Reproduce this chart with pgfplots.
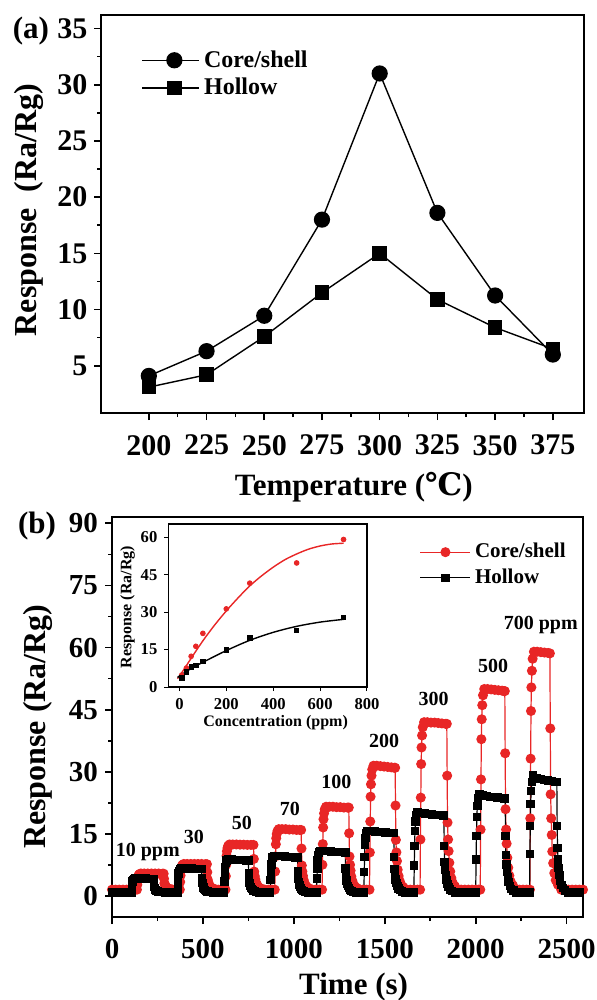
\documentclass[border=0pt]{standalone}
\usepackage{fontspec}
\setmainfont{Liberation Serif}
\newfontfamily\dejavu{DejaVu Serif}
\usepackage{pgfplots}
\pgfplotsset{compat=1.18}
\definecolor{cred}{RGB}{232,38,38}
\newcommand{\fs}[1]{\fontsize{#1}{#1}\selectfont\bfseries}

\pgfplotsset{
  panel/.style={
    scale only axis, anchor=south west,
    xtick pos=bottom, ytick pos=left, tick align=outside,
    major tick length=3.5pt, minor tick length=2pt,
    axis line style={line width=1pt},
    tick style={line width=0.8pt, black},
    /pgf/number format/assume math mode=true,
    /pgf/number format/1000 sep={},
    tick label style={font=\fs{14.5}},
    label style={font=\fs{15.5}},
    minor x tick num=1, minor y tick num=1,
    legend cell align=left,
  },
}

\begin{document}
\begin{tikzpicture}
\useasboundingbox (0,0) rectangle (298pt,-500pt);

% ---------- (a)
\begin{axis}[panel,
  at={(50.75pt,-206.5pt)}, width=241.25pt, height=199pt,
  xmin=179.5, xmax=388.5, ymin=0.8, ymax=36.2,
  xtick={200,225,...,375}, ytick={5,10,...,35},
  tick label style={font=\fs{15}},
  xticklabel style={yshift=-4pt},
  xlabel={Temperature ({\dejavu ℃})},
  ylabel={Response\ \ (Ra/Rg)},
  xlabel style={at={(axis description cs:0.523,-0.186)}, anchor=center},
  ylabel style={at={(axis description cs:-0.151,0.51)}, anchor=center, font=\fs{16}},
  legend style={draw=none, fill=none, font=\fs{12},
    at={(axis description cs:0.07,0.932)}, anchor=north west},
  legend image code/.code={\draw[mark repeat=2,mark phase=2,#1] plot coordinates {(0pt,0pt) (16pt,0pt) (28.5pt,0pt)};},
]
\addplot[black, line width=0.7pt, mark=*, mark size=3.7pt] coordinates {
  (200,4.1) (225,6.3) (250,9.45) (275,18.0) (300,31.0) (325,18.6) (350,11.25) (375,6.0)
};
\addlegendentry{Core/shell}
\addplot[black, line width=0.7pt, mark=square*, mark size=3.3pt] coordinates {
  (200,3.1) (225,4.2) (250,7.6) (275,11.5) (300,15.0) (325,10.9) (350,8.4) (375,6.5)
};
\addlegendentry{Hollow}
\end{axis}

\node[font=\fs{15.5}] at (15.5pt,-15.5pt) {(a)};
\node[font=\fs{15.5}] at (18.5pt,-263pt) {(b)};

% ---------- (b)
\begin{axis}[panel,
  at={(56pt,-458.5pt)}, width=235.5pt, height=200pt,
  xmin=0, xmax=2590, ymin=-5, ymax=91.5,
  xtick={0,500,...,2500}, ytick={0,15,...,90},
  xticklabel style={yshift=-4pt},
  xlabel={Time (s)},
  ylabel={Response (Ra/Rg)},
  xlabel style={at={(axis description cs:0.513,-0.175)}, anchor=center},
  ylabel style={at={(axis description cs:-0.157,0.476)}, anchor=center, font=\fs{16}},
  legend style={draw=none, fill=none, font=\fs{10.5},
    at={(axis description cs:0.64,0.955)}, anchor=north west},
  legend image code/.code={\draw[mark repeat=2,mark phase=2,#1] plot coordinates {(0pt,0pt) (12.5pt,0pt) (25pt,0pt)};},
]
\addplot[cred, line width=0.6pt, mark=*, mark size=2.2pt] coordinates {
(0,1.6)(20,1.6)(40,1.6)(60,1.6)(80,1.6)(100,1.6)(120,1.6)
(137,1.6)(139,2.77)(141,3.75)(143,4.53)(145,4.92)(148,5.19)(152,5.38)(159,5.5)
(177,5.5)(197,5.5)(217,5.5)(237,5.5)(257,5.5)(277,5.45)
(284,5.45)(286,4.25)(288,3.16)(291,2.77)(294,2.5)(298,2.22)(303,2.03)(309,1.87)(317,1.76)(329,1.68)
(345,1.6)(360,1.6)
(373,1.6)(375,3.46)(377,5.01)(379,6.25)(381,6.87)(384,7.3)(388,7.61)(395,7.8)
(413,7.8)(433,7.8)(453,7.8)(473,7.8)(493,7.8)(513,7.75)
(522,7.75)(524,5.82)(526,4.08)(529,3.46)(532,3.03)(536,2.59)(541,2.28)(547,2.03)(555,1.85)(567,1.72)
(585,1.6)(605,1.6)(618,1.6)
(624,1.6)(626,4.87)(628,7.6)(630,9.78)(632,10.87)(635,11.63)(639,12.17)(646,12.5)
(664,12.5)(684,12.5)(704,12.45)(724,12.45)(744,12.4)(764,12.4)
(778,12.4)(780,9.01)(782,5.96)(785,4.87)(788,4.11)(792,3.34)(797,2.8)(803,2.36)(811,2.04)(823,1.82)
(840,1.6)(860,1.6)(880,1.6)
(895,1.6)(897,5.98)(899,9.63)(901,12.55)(903,14.01)(906,15.03)(910,15.76)(917,16.2)
(935,16.2)(955,16.2)(975,16.1)(995,16.1)(1015,16.0)(1033,16.0)
(1040,16.0)(1042,11.53)(1044,7.44)(1047,5.98)(1050,4.96)(1054,3.94)(1059,3.21)(1065,2.62)(1073,2.18)(1085,1.89)
(1100,1.6)(1120,1.6)(1140,1.6)
(1155,1.6)(1157,7.6)(1159,12.6)(1161,16.6)(1163,18.6)(1166,20.0)(1170,21.0)(1177,21.6)
(1195,21.6)(1215,21.6)(1235,21.5)(1255,21.5)(1275,21.4)(1295,21.4)
(1302,21.4)(1304,15.2)(1306,9.6)(1309,7.6)(1312,6.2)(1316,4.8)(1321,3.8)(1327,3.0)(1335,2.4)(1347,2.0)
(1360,1.6)(1380,1.6)(1400,1.6)
(1416,1.6)(1418,10.57)(1420,18.05)(1422,24.03)(1424,27.02)(1427,29.11)(1431,30.6)(1438,31.5)
(1456,31.5)(1476,31.4)(1496,31.3)(1516,31.2)(1536,31.1)(1552,31.0)
(1557,31.0)(1559,21.9)(1561,13.6)(1564,10.6)(1567,8.5)(1571,6.4)(1576,4.9)(1582,3.7)(1590,2.8)(1602,2.2)
(1620,1.6)(1640,1.6)(1660,1.6)(1680,1.6)
(1694,1.6)(1696,13.7)(1698,23.8)(1700,31.9)(1702,35.9)(1705,38.8)(1709,40.8)(1716,42.0)
(1734,42.0)(1754,41.9)(1774,41.9)(1794,41.8)(1814,41.7)(1834,41.6)
(1841,41.6)(1843,29.1)(1845,17.8)(1848,13.7)(1851,10.9)(1855,8.1)(1860,6.0)(1866,4.4)(1874,3.2)(1886,2.4)
(1900,1.6)(1920,1.6)(1940,1.6)(1960,1.6)(1980,1.6)(2000,1.6)(2015,1.6)
(2025,1.6)(2027,16.1)(2029,28.2)(2031,37.9)(2033,42.7)(2036,46.1)(2040,48.5)(2047,50.0)
(2065,50.0)(2085,49.9)(2105,49.8)(2125,49.7)(2145,49.6)(2155,49.5)
(2160,49.5)(2162,34.5)(2164,21.0)(2167,16.1)(2170,12.7)(2174,9.3)(2179,6.9)(2185,5.0)(2193,3.5)(2205,2.6)
(2220,1.6)(2240,1.6)(2260,1.6)(2280,1.6)
(2298,1.6)(2300,18.8)(2302,33.2)(2304,44.7)(2306,50.4)(2309,54.4)(2313,57.3)(2320,59.0)
(2338,59.0)(2358,58.9)(2378,58.8)(2398,58.7)
(2408,58.6)(2410,40.5)(2412,24.6)(2415,18.8)(2418,14.8)(2421,10.8)(2426,8.0)(2432,5.6)(2440,3.9)(2452,2.8)
(2470,1.6)(2490,1.6)(2510,1.6)(2530,1.6)(2550,1.6)(2570,1.6)(2590,1.6)
};
\addlegendentry{Core/shell}
\addplot[black, line width=0.6pt, mark=square*, mark size=1.8pt] coordinates {
(0,0.9)(20,0.9)(40,0.9)(60,0.9)(80,0.9)(100,0.9)
(107,0.9)(109,2.06)(111,2.88)(113,3.54)(116,3.94)(120,4.2)(127,4.33)
(147,4.3)(167,4.28)(187,4.25)(207,4.22)(222,4.2)
(228,4.2)(230,2.88)(232,2.22)(235,1.89)(238,1.63)(242,1.43)(247,1.26)(253,1.13)(261,1.03)(273,0.97)
(290,0.9)(310,0.9)(330,0.9)(350,0.9)
(360,0.9)(362,2.9)(364,4.32)(366,5.46)(369,6.14)(373,6.6)(380,6.83)
(400,6.8)(420,6.75)(440,6.7)(460,6.65)(480,6.6)
(493,6.6)(495,4.32)(497,3.18)(500,2.61)(503,2.15)(507,1.81)(512,1.53)(518,1.3)(526,1.13)(538,1.01)
(555,0.9)(575,0.9)(595,0.9)(610,0.9)
(617,0.9)(619,3.6)(621,5.52)(623,7.06)(626,7.98)(630,8.6)(637,8.91)
(657,8.85)(677,8.8)(697,8.75)(717,8.7)(737,8.65)
(750,8.6)(752,5.52)(754,3.98)(757,3.21)(760,2.59)(764,2.13)(769,1.75)(775,1.44)(783,1.21)(795,1.05)
(810,0.9)(830,0.9)(850,0.9)(865,0.9)
(870,0.9)(872,3.88)(874,6.0)(876,7.7)(879,8.72)(883,9.4)(890,9.74)
(910,9.7)(930,9.65)(950,9.6)(970,9.5)(990,9.45)(1010,9.4)
(1020,9.4)(1022,6.0)(1024,4.3)(1027,3.45)(1030,2.77)(1034,2.26)(1039,1.84)(1045,1.5)(1053,1.24)(1065,1.07)
(1080,0.9)(1100,0.9)(1120,0.9)
(1125,0.9)(1127,4.3)(1129,6.72)(1131,8.66)(1134,9.82)(1138,10.6)(1145,10.99)
(1165,10.95)(1185,10.9)(1205,10.8)(1225,10.75)(1245,10.7)(1265,10.65)
(1283,10.6)(1285,6.72)(1287,4.78)(1290,3.81)(1293,3.03)(1297,2.45)(1302,1.97)(1308,1.58)(1316,1.29)(1328,1.09)
(1345,0.9)(1365,0.9)(1380,0.9)
(1385,0.9)(1387,5.9)(1389,9.48)(1391,12.34)(1394,14.06)(1398,15.2)(1405,15.77)
(1425,15.7)(1445,15.6)(1465,15.5)(1485,15.45)(1505,15.35)(1525,15.3)(1545,15.2)
(1550,15.2)(1552,9.48)(1554,6.62)(1557,5.19)(1560,4.05)(1564,3.19)(1569,2.47)(1575,1.9)(1583,1.47)(1595,1.19)
(1610,0.9)(1630,0.9)(1650,0.9)
(1660,0.9)(1662,7.41)(1664,12.06)(1666,15.78)(1669,18.01)(1673,19.5)(1680,20.4)
(1700,20.1)(1720,19.95)(1740,19.8)(1760,19.7)(1780,19.6)(1800,19.55)(1820,19.5)
(1825,19.5)(1827,12.06)(1829,8.34)(1832,6.48)(1835,4.99)(1839,3.88)(1844,2.95)(1850,2.2)(1858,1.64)(1870,1.27)
(1885,0.9)(1905,0.9)(1925,0.9)(1945,0.9)(1965,0.9)(1985,0.9)
(2000,0.9)(2002,8.85)(2004,14.52)(2006,19.06)(2009,21.78)(2013,23.6)(2020,24.6)
(2040,24.4)(2060,24.2)(2080,24.0)(2100,23.9)(2120,23.8)(2140,23.7)(2158,23.6)
(2162,23.6)(2164,14.52)(2166,9.98)(2169,7.71)(2172,5.89)(2176,4.53)(2181,3.4)(2187,2.49)(2195,1.81)(2207,1.35)
(2225,0.9)(2245,0.9)(2265,0.9)(2285,0.9)
(2296,0.9)(2298,10.25)(2300,16.92)(2302,22.26)(2305,25.46)(2309,27.6)(2316,29.2)
(2336,28.6)(2356,28.3)(2376,28.0)(2396,27.9)(2416,27.8)(2436,27.6)
(2446,27.6)(2448,16.92)(2450,11.58)(2453,8.91)(2456,6.77)(2460,5.17)(2465,3.84)(2471,2.77)(2479,1.97)(2491,1.43)
(2510,0.9)(2530,0.9)(2550,0.9)(2570,0.9)
};
\addlegendentry{Hollow}
\node[font=\fs{10}] at (axis cs:197,10.8) {10 ppm};
\node[font=\fs{10}] at (axis cs:450,14.2) {30};
\node[font=\fs{10}] at (axis cs:714,17.8) {50};
\node[font=\fs{10}] at (axis cs:978,21.0) {70};
\node[font=\fs{10}] at (axis cs:1234,27.5) {100};
\node[font=\fs{10}] at (axis cs:1496,37.5) {200};
\node[font=\fs{10}] at (axis cs:1768,47.6) {300};
\node[font=\fs{10}] at (axis cs:2096,55.6) {500};
\node[font=\fs{10}] at (axis cs:2358,65.4) {700 ppm};
\end{axis}

% ---------- inset
\begin{axis}[
  at={(84.2pt,-343.5pt)}, anchor=south west,
  scale only axis, width=99.3pt, height=81.5pt,
  axis background/.style={fill=white},
  xmin=-47, xmax=800, ymin=0, ymax=65.3,
  xtick={0,200,...,800}, ytick={0,15,...,60},
  xtick pos=bottom, ytick pos=left, tick align=outside,
  major tick length=2pt,
  axis line style={line width=0.6pt},
  tick style={line width=0.5pt, black},
  /pgf/number format/assume math mode=true,
  tick label style={font=\fs{8.3}},
  label style={font=\fs{8}},
  xlabel={Concentration (ppm)},
  ylabel={Response (Ra/Rg)},
  xlabel style={at={(axis description cs:0.54,-0.219)}, anchor=center},
  ylabel style={at={(axis description cs:-0.206,0.49)}, anchor=center},
]
\addplot[cred, line width=0.7pt, smooth, no marks] coordinates {
  (-8,3.6) (0,4.3) (50,11.5) (100,18.5) (150,24.8) (200,30.5) (250,35.7) (300,40.5)
  (350,44.5) (400,48.0) (450,51.0) (500,53.3) (550,55.2) (600,56.5) (650,57.3) (700,57.6)
};
\addplot[black, line width=0.7pt, smooth, no marks] coordinates {
  (-8,3.8) (0,4.4) (50,7.4) (100,9.9) (200,14.6) (300,18.7) (400,21.9) (500,24.3) (600,26.0) (700,27.1)
};
\addplot[cred, only marks, mark=*, mark size=1.2pt] coordinates {
  (10,4.8) (30,7.6) (50,12.3) (70,16.3) (100,21.5) (200,31.3) (300,41.6) (500,49.7) (700,59.1)
};
\addplot[black, only marks, mark=square*, mark size=1.1pt] coordinates {
  (10,3.6) (30,6.0) (50,8.0) (70,8.7) (100,10.3) (200,14.9) (300,19.6) (500,22.7) (700,28.0)
};
\end{axis}
\end{tikzpicture}
\end{document}
